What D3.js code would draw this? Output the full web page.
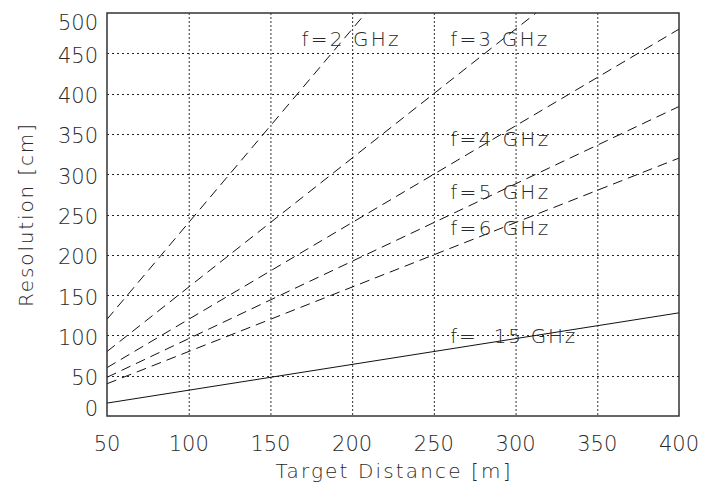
<!DOCTYPE html>
<html>
<head>
<meta charset="utf-8">
<script src="https://cdn.jsdelivr.net/npm/d3@7"></script>
<style>
  body { margin: 0; background: #fff; }
  text { font-family: "DejaVu Sans", sans-serif; font-weight: 200; fill: #2a2a2a; }
</style>
</head>
<body>
<div id="chart"></div>
<script>
// ---- data ----
const distances = [50, 400];               // target distance [m]
const seriesNames = ["f=2 GHz", "f=3 GHz", "f=4 GHz", "f=5 GHz", "f=6 GHz", "f=  15 GHz"];
const res2 = [120, 960];
const res3 = [80, 640];
const res4 = [60, 480];
const res5 = [48, 384];
const res6 = [40, 320];
const res15 = [16, 128];
const xTicks = [50, 100, 150, 200, 250, 300, 350, 400];
const yTicks = [0, 50, 100, 150, 200, 250, 300, 350, 400, 450, 500];

const allSeries = [res2, res3, res4, res5, res6, res15];

// label positions in data units (where the text sits)
const labelAt = [
  { x: 169, y: 459 }, { x: 260, y: 459 }, { x: 260, y: 335 },
  { x: 260, y: 269 }, { x: 260, y: 224 }, { x: 260, y: 91 }
];
const labelWidth = [97, 97, 98, 98, 98, 125];

const width = 704, height = 489;
const margin = { left: 107, right: 25, top: 13, bottom: 73 };

const svg = d3.select('#chart')
  .append('svg')
    .attr('width', width)
    .attr('height', height);

const x = d3.scaleLinear()
  .domain([50, 400])
  .range([margin.left, width - margin.right]);
const y = d3.scaleLinear()
  .domain([0, 500])
  .range([height - margin.bottom, margin.top]);

// clip for lines that leave the frame
svg.append('clipPath')
    .attr('id', 'plot-clip')
  .append('rect')
    .attr('x', x(50))
    .attr('y', y(500))
    .attr('width', x(400) - x(50))
    .attr('height', y(0) - y(500));

// grid
const grid = svg.append('g').attr('class', 'grid');
grid.selectAll('.vgrid')
  .data(xTicks.slice(1, -1))
  .join('line')
    .attr('x1', d => x(d) + 0.5)
    .attr('x2', d => x(d) + 0.5)
    .attr('y1', y(500))
    .attr('y2', y(0))
    .attr('stroke', '#333')
    .attr('stroke-width', 1)
    .attr('stroke-dasharray', '2,2');
grid.selectAll('.hgrid')
  .data(yTicks.slice(1, -1))
  .join('line')
    .attr('x1', x(50))
    .attr('x2', x(400))
    .attr('y1', d => Math.round(y(d)) + 0.5)
    .attr('y2', d => Math.round(y(d)) + 0.5)
    .attr('stroke', '#222')
    .attr('stroke-width', 1.2)
    .attr('stroke-dasharray', '2,3');

// lines
const line = d3.line()
  .x((d, i) => x(distances[i]))
  .y(d => y(d));

svg.append('g')
    .attr('clip-path', 'url(#plot-clip)')
  .selectAll('path')
  .data(allSeries)
  .join('path')
    .attr('d', d => line(d))
    .attr('fill', 'none')
    .attr('stroke', '#111')
    .attr('stroke-width', 1)
    .attr('stroke-dasharray', (d, i) => i < 5 ? '10,6' : null);

// frame
svg.append('rect')
    .attr('x', x(50))
    .attr('y', y(500))
    .attr('width', x(400) - x(50))
    .attr('height', y(0) - y(500))
    .attr('fill', 'none')
    .attr('stroke', '#333')
    .attr('stroke-width', 1.5);

// series labels
svg.append('g')
  .selectAll('text')
  .data(seriesNames)
  .join('text')
    .attr('x', (d, i) => x(labelAt[i].x))
    .attr('y', (d, i) => y(labelAt[i].y))
    .attr('font-size', 20)
    .attr('textLength', (d, i) => labelWidth[i])
    .attr('lengthAdjust', 'spacing')
    .style('white-space', 'pre')
    .text(d => d);

// x tick labels
svg.append('g')
  .selectAll('text')
  .data(xTicks)
  .join('text')
    .attr('x', d => x(d))
    .attr('y', y(0) + 35)
    .attr('text-anchor', 'middle')
    .attr('font-size', 21)
    .text(d => d);

// y tick labels (end ones pushed inside like the original)
svg.append('g')
  .selectAll('text')
  .data(yTicks)
  .join('text')
    .attr('x', margin.left - 9)
    .attr('y', d => Math.min(Math.max(y(d) + 2, y(500) + 9), y(0) - 8))
    .attr('dy', '0.36em')
    .attr('text-anchor', 'end')
    .attr('font-size', 21)
    .text(d => d);

// axis titles
svg.append('text')
    .attr('x', (x(50) + x(400)) / 2)
    .attr('y', 478)
    .attr('text-anchor', 'middle')
    .attr('font-size', 20)
    .attr('textLength', 235)
    .attr('lengthAdjust', 'spacing')
    .text('Target Distance [m]');

svg.append('text')
    .attr('transform', `translate(33,${(y(0) + y(500)) / 2 + 1}) rotate(-90)`)
    .attr('text-anchor', 'middle')
    .attr('font-size', 20)
    .attr('textLength', 183)
    .attr('lengthAdjust', 'spacing')
    .text('Resolution [cm]');
</script>
</body>
</html>
